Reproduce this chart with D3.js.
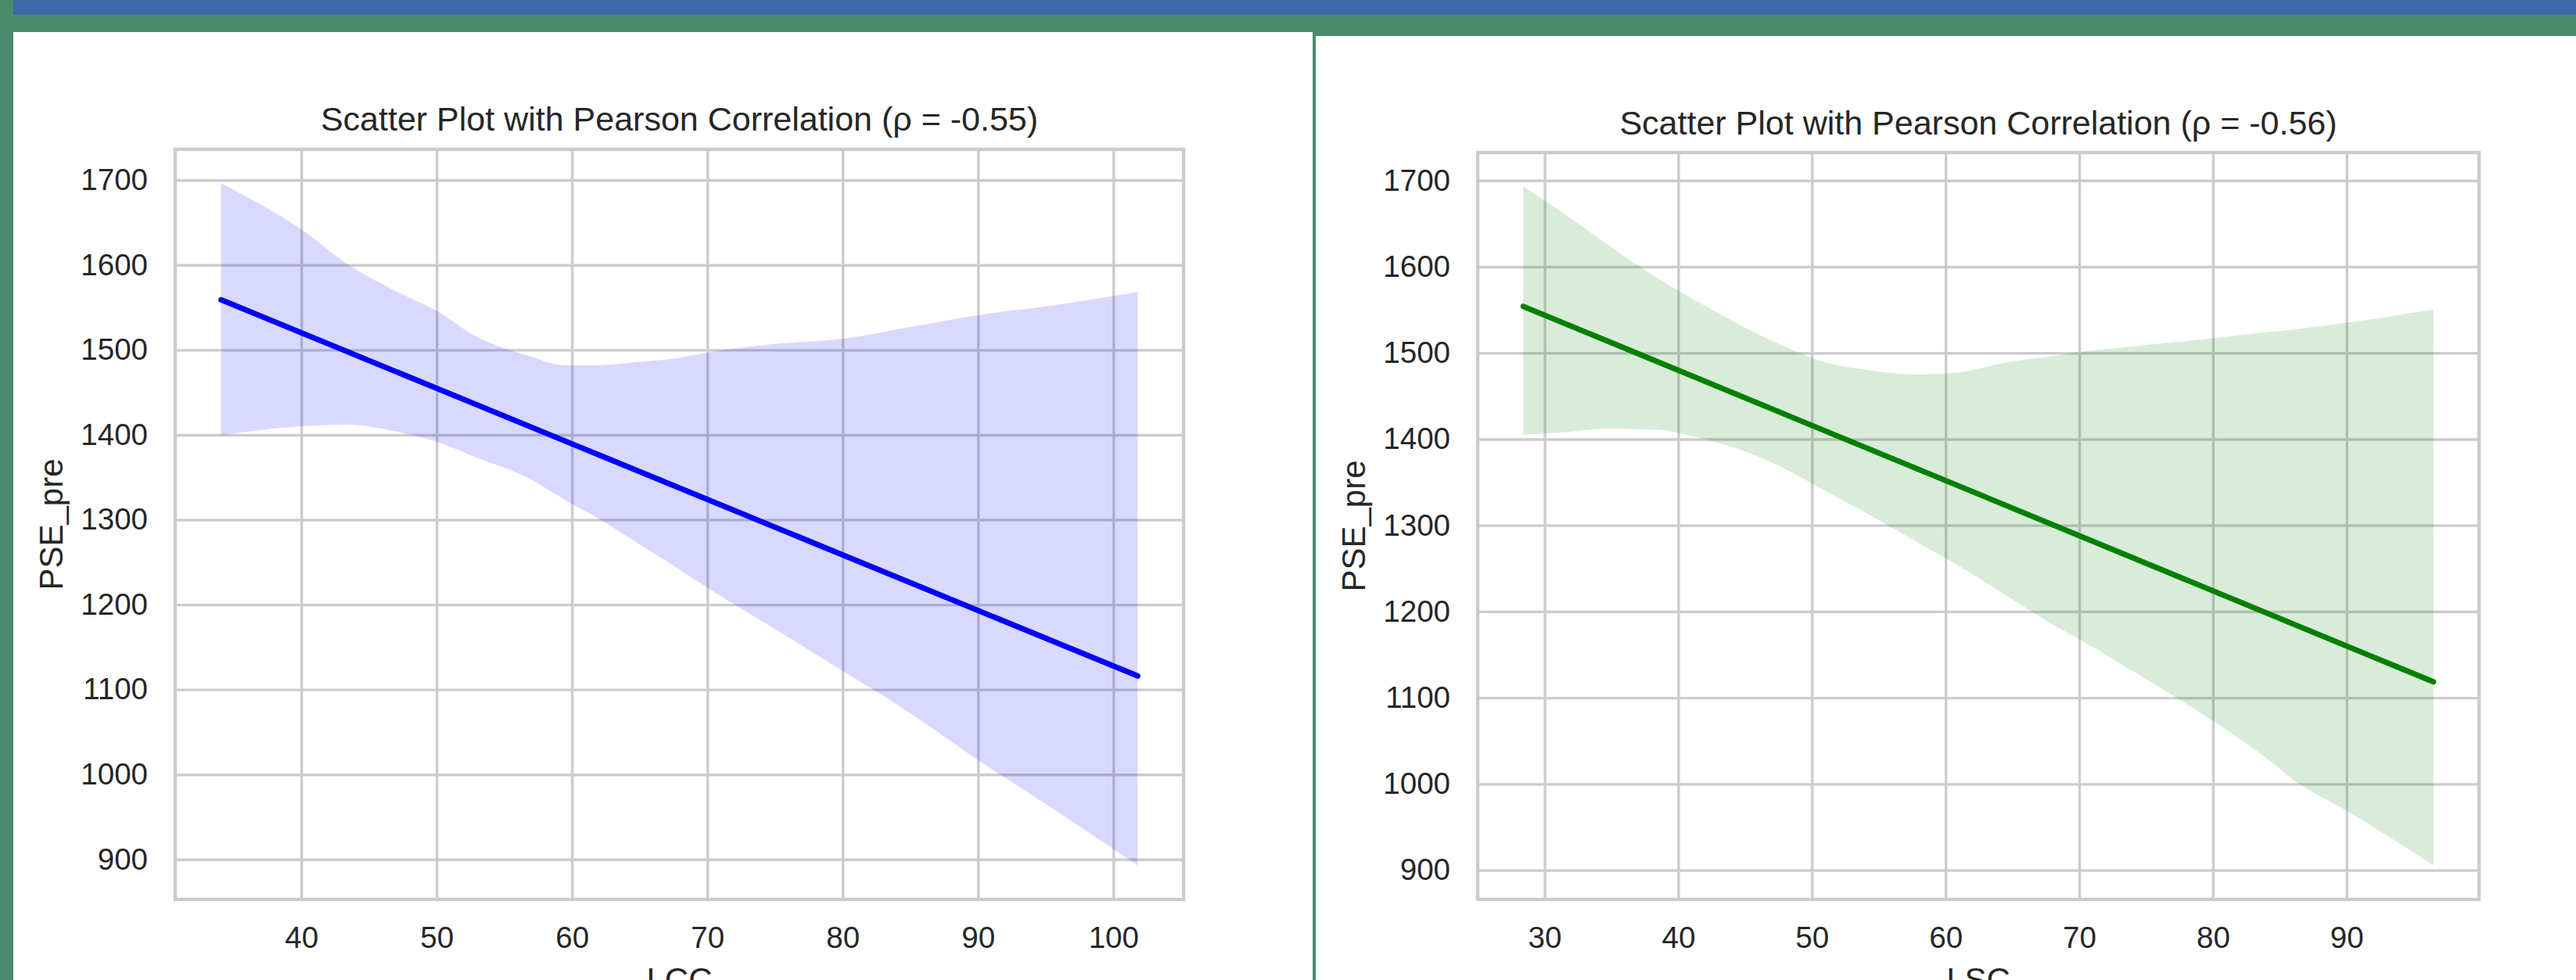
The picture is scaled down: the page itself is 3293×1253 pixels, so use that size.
<!DOCTYPE html>
<html>
<head>
<meta charset="utf-8">
<script src="https://cdn.jsdelivr.net/npm/d3@7"></script>
<style>
  body { margin: 0; padding: 0; background: #4a8a6e; }
  svg { display: block; }
  text { font-family: "Liberation Sans", Arial, sans-serif; fill: #262626; }
</style>
</head>
<body>
<svg id="chart"></svg>
<script>
// ---- data ----
// left panel: PSE_pre vs LCC (regression band + fit line)
const lccX     = [34.07, 36.7, 40, 43.5, 47, 50, 53, 56.8, 59.4, 62, 65, 67.2, 70, 75, 80, 85, 90, 95.3, 101.8];
const lccUpper = [1696, 1674, 1642, 1600, 1569, 1546, 1515, 1493, 1482, 1482, 1486, 1489, 1497, 1507, 1513, 1527, 1541, 1552, 1568];
const lccLower = [1399.5, 1405, 1410, 1412, 1404, 1392, 1373, 1349, 1324, 1301, 1271, 1249, 1220, 1171, 1122, 1072, 1017, 962, 893];
const lccFitX  = [34.07, 101.8];
const lccFitY  = [1559, 1116];

// right panel: PSE_pre vs LSC
const lscX     = [28.4, 31.5, 34.6, 38.2, 42.2, 45.3, 49.4, 51, 54.2, 57.7, 61.3, 64.2, 68.3, 70, 73.35, 80, 84, 86, 90, 96.5];
const lscUpper = [1693, 1661, 1627, 1589, 1553, 1527, 1498, 1489, 1480, 1475, 1478, 1488, 1497, 1501, 1506.5, 1517, 1524, 1527, 1535, 1550];
const lscLower = [1405, 1408, 1412, 1411, 1399, 1384, 1354, 1340, 1313, 1282, 1250, 1222, 1182.5, 1168, 1137, 1073, 1030, 1005, 969, 905.5];
const lscFitX  = [28.4, 96.5];
const lscFitY  = [1554, 1118.5];

// tick labels
const lccTicks = [40, 50, 60, 70, 80, 90, 100];
const lscTicks = [30, 40, 50, 60, 70, 80, 90];
const pseTicks = [900, 1000, 1100, 1200, 1300, 1400, 1500, 1600, 1700];

const W = 3293, H = 1253;
const svg = d3.select("#chart").attr("width", W).attr("height", H);

// page background: blue strip on top, white panels
svg.append("rect").attr("x", 0).attr("y", 0).attr("width", W).attr("height", H).attr("fill", "#4a8a6e");
svg.append("rect").attr("x", 17).attr("y", 0).attr("width", W - 17).attr("height", 19).attr("fill", "#3b6aa5");
svg.append("rect").attr("x", 17).attr("y", 41).attr("width", 1661).attr("height", H - 41).attr("fill", "#fff");
svg.append("rect").attr("x", 1682).attr("y", 46).attr("width", W - 1682).attr("height", H - 46).attr("fill", "#fff");

function pad(ext) {
    let m = (ext[1] - ext[0]) * 0.05;
    return [ext[0] - m, ext[1] + m];
}

function drawPanel(o) {
    const g = svg.append("g").attr("transform", "translate(" + o.left + "," + o.top + ")");
    const w = o.width, h = o.height;

    let x = d3.scaleLinear().domain(pad(d3.extent(o.xs))).range([0, w]);
    let y = d3.scaleLinear()
        .domain(pad([d3.min(o.lower), d3.max(o.upper)]))
        .range([h, 0]);

    // grid + tick labels
    let xAxis = g.append("g").attr("transform", "translate(0," + h + ")")
        .call(d3.axisBottom(x).tickValues(o.xTicks).tickSize(-h).tickPadding(35).tickFormat(d3.format("d")));
    let yAxis = g.append("g")
        .call(d3.axisLeft(y).tickValues(pseTicks).tickSize(-w).tickPadding(35).tickFormat(d3.format("d")));
    [xAxis, yAxis].forEach(a => {
        a.select(".domain").remove();
        a.selectAll("line").attr("stroke", "#cccccc").attr("stroke-width", 3.4);
        a.selectAll("text").style("font-size", "38.5px").attr("fill", "#262626");
    });

    // confidence band
    let band = o.xs.map((d, i) => ({ x: d, lo: o.lower[i], hi: o.upper[i] }));
    let area = d3.area()
        .x(d => x(d.x))
        .y0(d => y(d.lo))
        .y1(d => y(d.hi))
        .curve(d3.curveMonotoneX);
    g.append("path")
        .datum(band)
        .attr("d", area)
        .attr("fill", o.color)
        .attr("fill-opacity", 0.15);

    // fit line
    let fit = o.fitX.map((d, i) => [d, o.fitY[i]]);
    g.append("path")
        .datum(fit)
        .attr("d", d3.line().x(d => x(d[0])).y(d => y(d[1])))
        .attr("fill", "none")
        .attr("stroke", o.color)
        .attr("stroke-width", 7)
        .attr("stroke-linecap", "round");

    // frame
    g.append("rect")
        .attr("width", w).attr("height", h)
        .attr("fill", "none")
        .attr("stroke", "#cccccc")
        .attr("stroke-width", 4.4);

    // title and labels
    g.append("text")
        .attr("x", w / 2).attr("y", o.titleY)
        .attr("text-anchor", "middle")
        .style("font-size", "43px")
        .text(o.title);
    g.append("text")
        .attr("x", w / 2).attr("y", h + 117)
        .attr("text-anchor", "middle")
        .style("font-size", "42px")
        .text(o.xLabel);
    g.append("text")
        .attr("transform", "translate(" + (-159) + "," + (h / 2) + ") rotate(-90)")
        .attr("text-anchor", "middle")
        .attr("dy", "0.35em")
        .style("font-size", "42px")
        .text("PSE_pre");
}

drawPanel({
    left: 224, top: 191, width: 1289, height: 959, titleY: -24,
    xs: lccX, upper: lccUpper, lower: lccLower, fitX: lccFitX, fitY: lccFitY,
    xTicks: lccTicks, color: "#0000ff", xLabel: "LCC",
    title: "Scatter Plot with Pearson Correlation (\u03c1 = -0.55)"
});

drawPanel({
    left: 1889, top: 195, width: 1280, height: 955, titleY: -23,
    xs: lscX, upper: lscUpper, lower: lscLower, fitX: lscFitX, fitY: lscFitY,
    xTicks: lscTicks, color: "#008000", xLabel: "LSC",
    title: "Scatter Plot with Pearson Correlation (\u03c1 = -0.56)"
});
</script>
</body>
</html>
